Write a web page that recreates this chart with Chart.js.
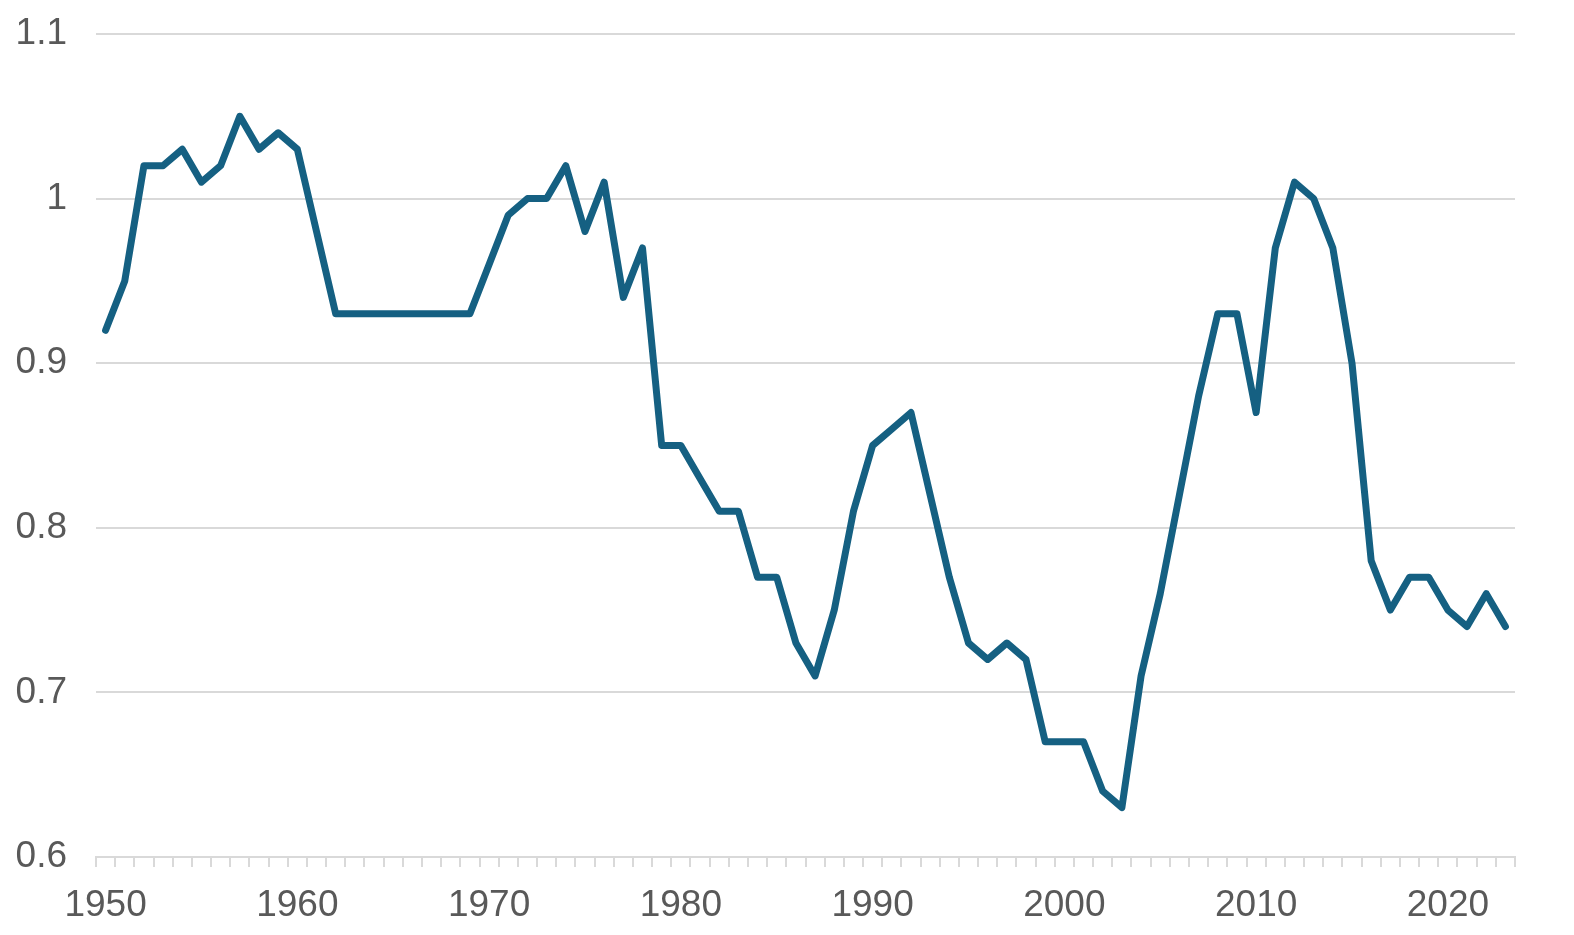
<!DOCTYPE html>
<html>
<head>
<meta charset="utf-8">
<script src="https://cdn.jsdelivr.net/npm/chart.js@4/dist/chart.umd.min.js"></script>
<style>
html,body{margin:0;padding:0;background:#fff;}
#wrap{position:relative;width:1574px;height:935px;}
</style>
</head>
<body>
<div id="wrap"><canvas id="c" width="1574" height="935"></canvas></div>
<script>
const years = [];
for (let y = 1950; y <= 2023; y++) years.push(String(y));
const values = [
  0.92, 0.95, 1.02, 1.02, 1.03, 1.01, 1.02, 1.05, 1.03, 1.04,
  1.03, 0.98, 0.93, 0.93, 0.93, 0.93, 0.93, 0.93, 0.93, 0.93,
  0.96, 0.99, 1.00, 1.00, 1.02, 0.98, 1.01, 0.94, 0.97, 0.85,
  0.85, 0.83, 0.81, 0.81, 0.77, 0.77, 0.73, 0.71, 0.75, 0.81,
  0.85, 0.86, 0.87, 0.82, 0.77, 0.73, 0.72, 0.73, 0.72, 0.67,
  0.67, 0.67, 0.64, 0.63, 0.71, 0.76, 0.82, 0.88, 0.93, 0.93,
  0.87, 0.97, 1.01, 1.00, 0.97, 0.90, 0.78, 0.75, 0.77, 0.77,
  0.75, 0.74, 0.76, 0.74
];
const yTicks = [0.6, 0.7, 0.8, 0.9, 1, 1.1];

const FONT = {family: "'Liberation Sans', Arial, sans-serif", size: 37};
const TEXT = '#595959';
const GRID = '#D9D9D9';

new Chart(document.getElementById('c'), {
  type: 'line',
  data: {
    labels: years,
    datasets: [{
      data: values,
      borderColor: '#156082',
      borderWidth: 7,
      pointRadius: 0,
      tension: 0,
      borderJoinStyle: 'round',
      borderCapStyle: 'round',
      fill: false
    }]
  },
  options: {
    responsive: false,
    animation: false,
    layout: {padding: {left: 0, right: 59, top: 34, bottom: 0}},
    plugins: {legend: {display: false}, tooltip: {enabled: false}},
    scales: {
      x: {
        offset: true,
        grid: {
          offset: true,
          drawOnChartArea: false,
          drawTicks: true,
          tickLength: 10,
          color: GRID,
          lineWidth: 2
        },
        border: {display: true, color: GRID, width: 2},
        ticks: {
          autoSkip: false,
          maxRotation: 0,
          minRotation: 0,
          padding: 17,
          color: TEXT,
          font: FONT,
          callback: function(v, i) {
            const y = Number(years[i]);
            return y % 10 === 0 ? years[i] : '';
          }
        },
        afterFit: function(s) { s.height = 78; s.paddingLeft = 0; s.paddingRight = 0; }
      },
      y: {
        min: 0.6,
        max: 1.1,
        afterBuildTicks: function(s) { s.ticks = yTicks.map(v => ({value: v})); },
        grid: {
          drawTicks: false,
          color: function(ctx) { return ctx.tick && ctx.tick.value === 0.6 ? 'rgba(0,0,0,0)' : GRID; },
          lineWidth: 2
        },
        border: {display: false},
        ticks: {
          padding: 29,
          color: TEXT,
          font: FONT,
          callback: function(v) { return String(Math.round(v * 10) / 10); }
        },
        afterFit: function(s) { s.width = 96; s.paddingTop = 0; s.paddingBottom = 0; }
      }
    }
  }
});
</script>
</body>
</html>
